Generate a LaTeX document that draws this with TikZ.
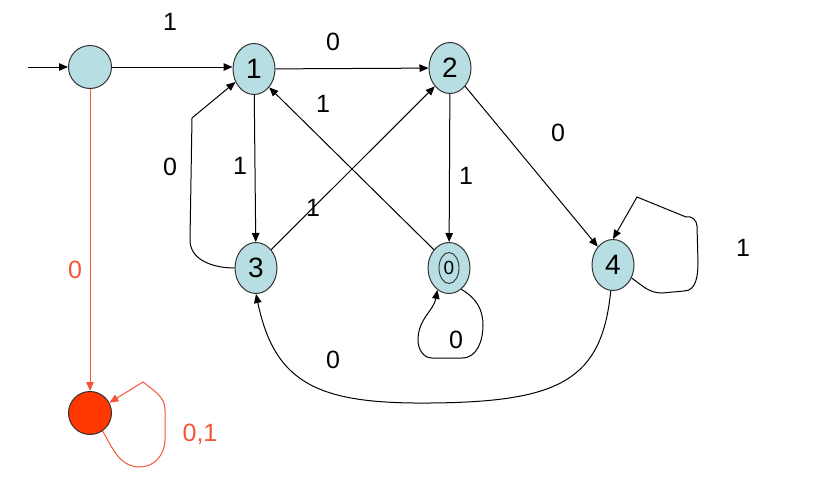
\documentclass[tikz,border=0pt]{standalone}
\usepackage{fontspec}
\setmainfont{Liberation Sans}
\usetikzlibrary{arrows.meta,shapes.geometric}
\definecolor{nodeblue}{RGB}{183,222,226}
\definecolor{deadred}{RGB}{255,55,0}
\definecolor{edgered}{RGB}{245,85,55}
\begin{document}
\begin{tikzpicture}[x=1pt,y=-1pt,
  state/.style={ellipse,draw=black!80,line width=1pt,fill=nodeblue,minimum width=42pt,minimum height=51pt,inner sep=0pt,font=\fontsize{28}{28}\selectfont},
  startst/.style={circle,draw=black!80,line width=1pt,fill=nodeblue,minimum size=43pt,inner sep=0pt},
  deadst/.style={circle,draw=black!80,line width=1pt,fill=deadred,minimum size=43pt,inner sep=0pt},
  edge/.style={line width=1pt,-{Triangle[length=9pt,width=7.5pt]}},
  redge/.style={edge,draw=edgered},
  lbl/.style={font=\fontsize{25}{25}\selectfont},
  rlbl/.style={lbl,text=edgered}]
\useasboundingbox (0,0) rectangle (822,498);
\node[startst] (s) at (90,67) {};
\node[state] (n1) at (254,69) {1};
\node[state] (n2) at (450,68) {2};
\node[state] (n3) at (256,268) {3};
\node[state] (n0) at (449,268) {\fontsize{19}{19}\selectfont 0};
\draw[line width=0.9pt,black!80] (n0) ellipse (10pt and 15.5pt);
\node[state] (n4) at (613,265) {4};
\node[deadst] (d) at (90,413) {};
\coordinate (in) at (28,67);
% edges
\draw[edge] (in) -- (s);
\draw[edge] (s) -- (n1.west |- s);
\node[lbl] (l1) at (170,22) {1};
\draw[edge] (n1) -- (n2);
\node[lbl] (l2) at (333,42) {0};
\draw[edge] (n2) -- (n4);
\node[lbl] (l3) at (558,133) {0};
\draw[edge] (n2) -- (n0);
\node[lbl] (l4) at (466,176) {1};
\draw[edge] (n1) -- (n3);
\node[lbl] (l5) at (240,166) {1};
\draw[edge] (n3.west) to[out=180,in=-90] (190,240) -- (192,118) -- (n1.215);
\node[lbl] (l6) at (170,167) {0};
\draw[edge] (n3.north east) -- (n2.south west);
\node[lbl] (l7) at (313,208) {1};
\draw[edge] (n0.north west) -- (n1.south east);
\node[lbl] (l8) at (323,104) {1};
\draw[edge] (n0.-60) to[out=-30,in=90] (483,325) to[out=-90,in=0] (462,358) -- (432,358) to[out=180,in=-90] (418,340) to[out=90,in=-100] (n0.-118);
\node[lbl] (l9) at (456,340) {0};
\draw[edge] (n4.-35) to[out=-35,in=180] (662,293) -- (684,291) to[out=0,in=-90] (698,262) -- (697,226) to[out=90,in=20] (686,217) -- (637,197) -- (n4.north);
\node[lbl] (l10) at (743,248) {1};
\draw[edge] (n4.265) .. controls (602,380) and (560,402) .. (430,403) .. controls (320,404) and (275,385) .. (n3.south);
\node[lbl] (l11) at (333,360) {0};
\draw[redge] (s) -- (d);
\node[rlbl] (l12) at (75,270) {0};
\draw[redge] (d.-55) to[out=-60,in=180] (140,467) to[out=0,in=-90] (165,440) -- (165,410) to[out=90,in=-40] (143,382) -- (d.28);
\node[rlbl] (l13) at (200,434) {0,1};
\end{tikzpicture}
\end{document}
